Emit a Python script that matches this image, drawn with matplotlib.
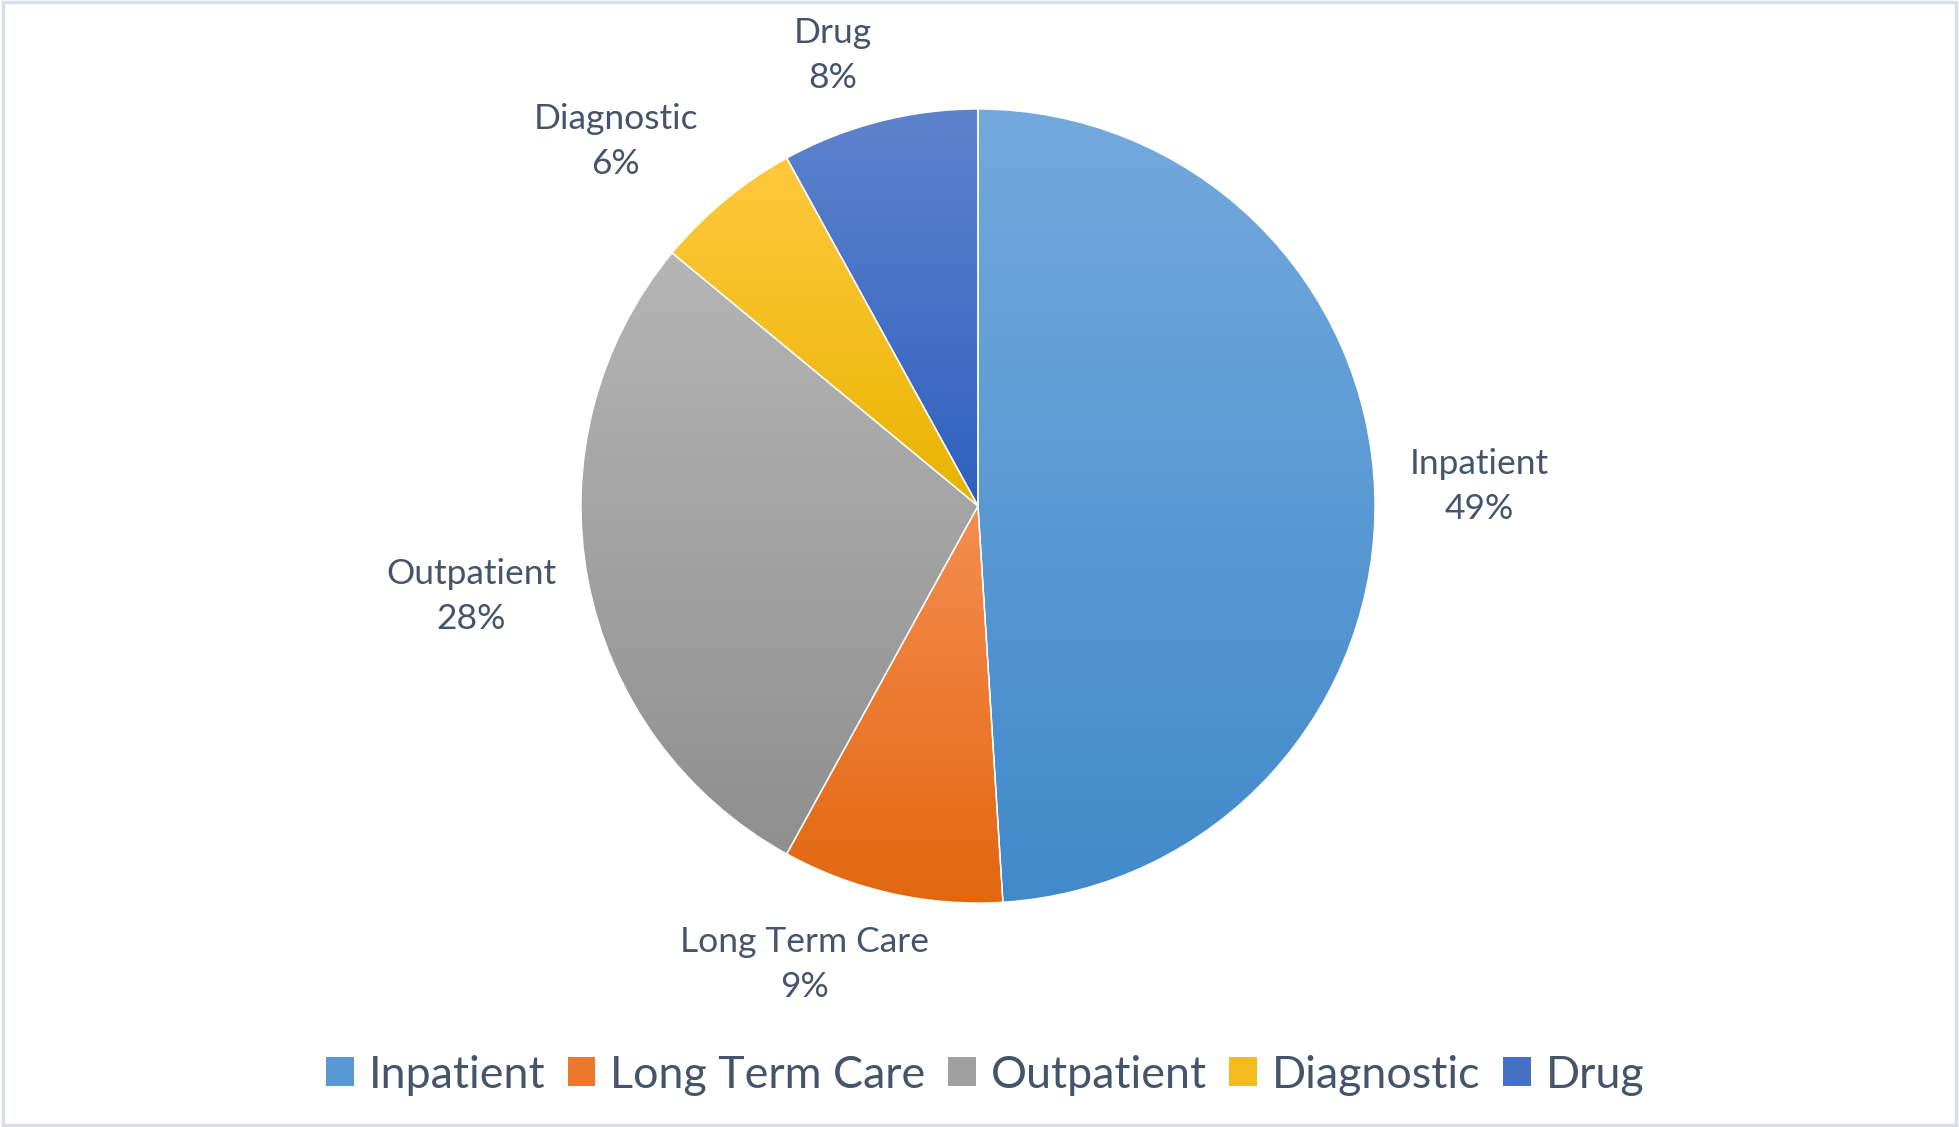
import numpy as np
import matplotlib
matplotlib.use("Agg")
import matplotlib.pyplot as plt
from matplotlib.colors import LinearSegmentedColormap
from matplotlib.patches import Patch, Rectangle

plt.rcParams['font.family'] = ['Lato', 'DejaVu Sans']

categories = ["Inpatient", "Long Term Care", "Outpatient", "Diagnostic", "Drug"]
shares = [49, 9, 28, 6, 8]
# gradient colours per slice (top, bottom)
top_colors = ["#73A9DD", "#F58D50", "#B5B5B5", "#FFC93D", "#5E83CD"]
bottom_colors = ["#418ACA", "#E2670F", "#8F8F8F", "#E8B400", "#2F60BF"]
# label anchors, in pie radii from the centre
label_pos = [(1.262, 0.048), (-0.436, -1.156), (-1.277, -0.227),
             (-0.912, 0.919), (-0.365, 1.134)]

text_col = "#44546A"
W, H = 1959, 1127
cx, cy, R = 978, 506, 397  # pie centre / radius in pixels

fig = plt.figure(figsize=(W / 100, H / 100), dpi=100)
ax = fig.add_axes([0, 0, 1, 1])

wedges, _ = ax.pie(shares, startangle=90, counterclock=False, radius=1,
                   colors=bottom_colors,
                   wedgeprops=dict(edgecolor="white", linewidth=1.0))

# vertical gradient clipped to each wedge
cmaps = []
for w, c1, c2 in zip(wedges, top_colors, bottom_colors):
    ext = w.get_path().get_extents()
    cmap = LinearSegmentedColormap.from_list("g", [c1, c2])
    cmaps.append(cmap)
    grad = np.linspace(0, 1, 256).reshape(-1, 1)
    im = ax.imshow(grad, cmap=cmap, aspect="auto", zorder=1,
                   extent=[ext.x0, ext.x1, ext.y0, ext.y1], origin="upper")
    im.set_clip_path(w)
    w.set_facecolor("none")
    w.set_zorder(2)

for name, val, (lx, ly) in zip(categories, shares, label_pos):
    ax.text(lx, ly, "{}\n{}%".format(name, val), ha="center", va="center",
            fontsize=25.5, color=text_col, linespacing=1.5, zorder=3)

ax.set_xlim(-cx / R, (W - cx) / R)
ax.set_ylim(-(H - cy) / R, cy / R)
ax.set_aspect("auto")
ax.axis("off")

handles = [Patch(facecolor=cm(0.55), edgecolor="none") for cm in cmaps]
leg = fig.legend(handles, categories, loc="center", ncol=5,
                 bbox_to_anchor=(985 / W, 1 - 1075 / H), frameon=False,
                 fontsize=32.3, handlelength=0.62, handleheight=0.62,
                 handletextpad=0.33, columnspacing=0.5)
for t in leg.get_texts():
    t.set_color(text_col)

fig.patches.append(Rectangle((0.0015, 0.002), 0.997, 0.996,
                             transform=fig.transFigure, fill=False,
                             edgecolor="#D9DEE8", linewidth=2.5))

fig.savefig("out.png", dpi=100, facecolor="white")
